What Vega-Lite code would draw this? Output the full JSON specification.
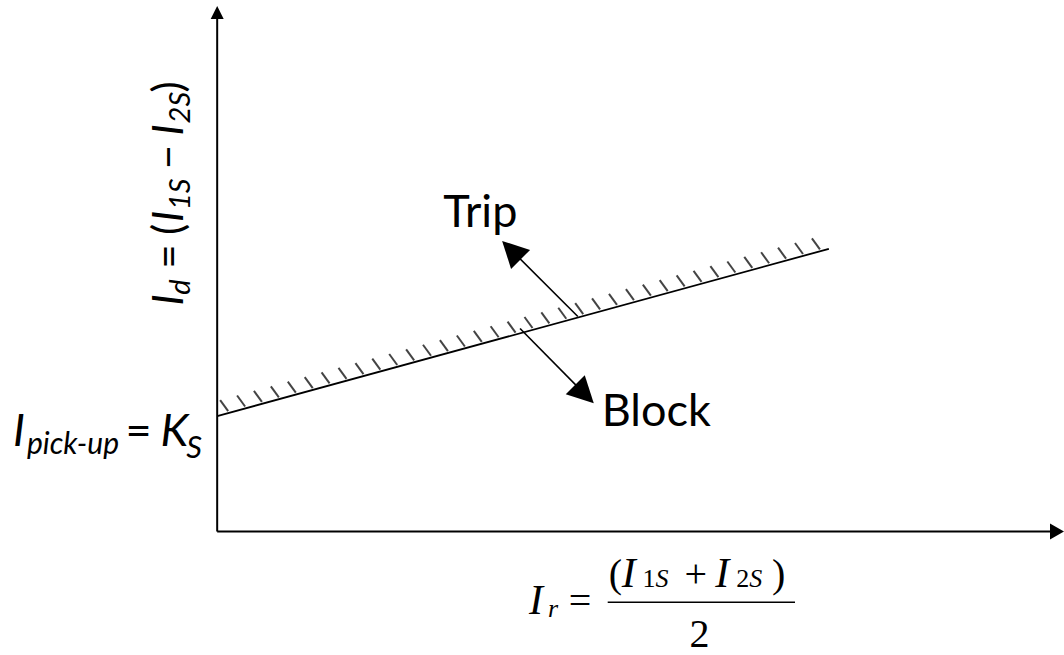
{
  "$schema": "https://vega.github.io/schema/vega-lite/v6.json",
  "width": 1064,
  "height": 655,
  "autosize": {"type": "fit", "contains": "padding"},
  "padding": 0,
  "background": "white",
  "config": {"view": {"stroke": null}},
  "datasets": {
    "axes": [{"x": 0, "y": 0, "x2": 0, "y2": 516}, {"x": 0, "y": 0, "x2": 838, "y2": 0}],
    "boundary": [{"x": 0, "y": 116, "x2": 614, "y2": 284}],
    "shafts": [{"x": 362, "y": 216, "x2": 294, "y2": 284}, {"x": 304, "y": 204, "x2": 370, "y2": 137}],
    "bar": [{"x": 392, "y": -71, "x2": 580, "y2": -71}],
    "hatch": [
      {"x": 7.0, "y": 117.9}, {"x": 24.0, "y": 122.6}, {"x": 40.9, "y": 127.2}, {"x": 57.9, "y": 131.8},
      {"x": 74.9, "y": 136.5}, {"x": 91.9, "y": 141.1}, {"x": 108.8, "y": 145.8}, {"x": 125.8, "y": 150.4},
      {"x": 142.8, "y": 155.1}, {"x": 159.7, "y": 159.7}, {"x": 176.7, "y": 164.3}, {"x": 193.7, "y": 169.0},
      {"x": 210.6, "y": 173.6}, {"x": 227.6, "y": 178.3}, {"x": 244.6, "y": 182.9}, {"x": 261.6, "y": 187.6},
      {"x": 278.5, "y": 192.2}, {"x": 295.5, "y": 196.8}, {"x": 312.5, "y": 201.5}, {"x": 329.4, "y": 206.1},
      {"x": 346.4, "y": 210.8}, {"x": 363.4, "y": 215.4}, {"x": 380.3, "y": 220.1}, {"x": 397.3, "y": 224.7},
      {"x": 414.3, "y": 229.4}, {"x": 431.3, "y": 234.0}, {"x": 448.2, "y": 238.6}, {"x": 465.2, "y": 243.3},
      {"x": 482.2, "y": 247.9}, {"x": 499.1, "y": 252.6}, {"x": 516.1, "y": 257.2}, {"x": 533.1, "y": 261.9},
      {"x": 550.0, "y": 266.5}, {"x": 567.0, "y": 271.1}, {"x": 584.0, "y": 275.8}, {"x": 601.0, "y": 280.4}
    ],
    "tipUp": [{"x": 0, "y": 528}],
    "tipRight": [{"x": 850, "y": 0}],
    "tipTrip": [{"x": 286, "y": 292}],
    "tipBlock": [{"x": 378, "y": 129}],
    "sansBig": [{"x": 227, "y": 306, "t": "Trip"}, {"x": 386, "y": 106, "t": "Block"}, {"x": -92, "y": 86, "t": "="}],
    "sansBigItalic": [{"x": -205, "y": 86, "t": "I"}, {"x": -57, "y": 86, "t": "K"}],
    "sansPickup": [{"x": -191, "y": 78, "t": "pick-up"}],
    "sansSmallItalic": [{"x": -31, "y": 74, "t": "S"}],
    "rotBigItalic": [{"x": -34, "y": 227, "t": "I"}, {"x": -34, "y": 311, "t": "I"}, {"x": -34, "y": 398, "t": "I"}],
    "rotBig": [{"x": -34, "y": 264, "t": "="}, {"x": -34, "y": 298, "t": "("}, {"x": -34, "y": 364, "t": "−"}, {"x": -34, "y": 441, "t": ")"}],
    "rotSmallItalic": [{"x": -27, "y": 238, "t": "d"}, {"x": -27, "y": 323, "t": "1S"}, {"x": -27, "y": 410, "t": "2S"}],
    "serifBigItalic": [{"x": 313, "y": -83, "t": "I"}, {"x": 406, "y": -56, "t": "I"}, {"x": 500, "y": -56, "t": "I"}],
    "serifBig": [{"x": 353, "y": -83, "t": "="}, {"x": 393, "y": -56, "t": "("}, {"x": 469, "y": -56, "t": "+"}, {"x": 557, "y": -56, "t": ")"}, {"x": 474, "y": -116, "t": "2"}],
    "serifSmallItalic": [{"x": 332, "y": -86, "t": "r"}, {"x": 440, "y": -56, "t": "S"}, {"x": 534, "y": -56, "t": "S"}],
    "serifSmall": [{"x": 427, "y": -56, "t": "1"}, {"x": 521, "y": -56, "t": "2"}]
  },
  "encoding": {
    "x": {"field": "x", "type": "quantitative", "scale": {"domain": [-218, 846], "nice": false, "zero": false}, "axis": null},
    "y": {"field": "y", "type": "quantitative", "scale": {"domain": [-121, 534], "nice": false, "zero": false}, "axis": null}
  },
  "layer": [
    {"data": {"name": "hatch"}, "mark": {"type": "point", "shape": "M-4,-14L4,-3", "size": 4, "filled": false, "stroke": "#444444", "strokeWidth": 2, "opacity": 1}},
    {"data": {"name": "axes"}, "mark": {"type": "rule", "color": "black", "strokeWidth": 2}, "encoding": {"x2": {"field": "x2"}, "y2": {"field": "y2"}}},
    {"data": {"name": "boundary"}, "mark": {"type": "rule", "color": "black", "strokeWidth": 1.8}, "encoding": {"x2": {"field": "x2"}, "y2": {"field": "y2"}}},
    {"data": {"name": "shafts"}, "mark": {"type": "rule", "color": "black", "strokeWidth": 1.6}, "encoding": {"x2": {"field": "x2"}, "y2": {"field": "y2"}}},
    {"data": {"name": "bar"}, "mark": {"type": "rule", "color": "black", "strokeWidth": 1.3}, "encoding": {"x2": {"field": "x2"}, "y2": {"field": "y2"}}},
    {"data": {"name": "tipUp"}, "mark": {"type": "point", "shape": "M0,0L-6.5,13L6.5,13Z", "size": 4, "filled": true, "color": "black", "opacity": 1, "strokeWidth": 0}},
    {"data": {"name": "tipRight"}, "mark": {"type": "point", "shape": "M0,0L-14,-8L-14,8Z", "size": 4, "filled": true, "color": "black", "opacity": 1, "strokeWidth": 0}},
    {"data": {"name": "tipTrip"}, "mark": {"type": "point", "shape": "M0,0L28,9L9,28Z", "size": 4, "filled": true, "color": "black", "opacity": 1, "strokeWidth": 0}},
    {"data": {"name": "tipBlock"}, "mark": {"type": "point", "shape": "M0,0L-28,-9L-9,-28Z", "size": 4, "filled": true, "color": "black", "opacity": 1, "strokeWidth": 0}},
    {"data": {"name": "sansBig"}, "mark": {"type": "text", "font": "Lato", "fontSize": 45, "align": "left", "baseline": "alphabetic", "color": "black"}, "encoding": {"text": {"field": "t"}}},
    {"data": {"name": "sansBigItalic"}, "mark": {"type": "text", "font": "Lato", "fontSize": 45, "fontStyle": "italic", "align": "left", "baseline": "alphabetic", "color": "black"}, "encoding": {"text": {"field": "t"}}},
    {"data": {"name": "sansPickup"}, "mark": {"type": "text", "font": "Lato", "fontSize": 30, "fontStyle": "italic", "align": "left", "baseline": "alphabetic", "color": "black"}, "encoding": {"text": {"field": "t"}}},
    {"data": {"name": "sansSmallItalic"}, "mark": {"type": "text", "font": "Lato", "fontSize": 31, "fontStyle": "italic", "align": "left", "baseline": "alphabetic", "color": "black"}, "encoding": {"text": {"field": "t"}}},
    {"data": {"name": "rotBigItalic"}, "mark": {"type": "text", "font": "Lato", "fontSize": 42, "fontStyle": "italic", "angle": 270, "align": "left", "baseline": "alphabetic", "color": "black"}, "encoding": {"text": {"field": "t"}}},
    {"data": {"name": "rotBig"}, "mark": {"type": "text", "font": "Lato", "fontSize": 42, "angle": 270, "align": "left", "baseline": "alphabetic", "color": "black"}, "encoding": {"text": {"field": "t"}}},
    {"data": {"name": "rotSmallItalic"}, "mark": {"type": "text", "font": "Lato", "fontSize": 29, "fontStyle": "italic", "angle": 270, "align": "left", "baseline": "alphabetic", "color": "black"}, "encoding": {"text": {"field": "t"}}},
    {"data": {"name": "serifBigItalic"}, "mark": {"type": "text", "font": "Liberation Serif", "fontSize": 42, "fontStyle": "italic", "align": "left", "baseline": "alphabetic", "color": "black"}, "encoding": {"text": {"field": "t"}}},
    {"data": {"name": "serifBig"}, "mark": {"type": "text", "font": "Liberation Serif", "fontSize": 40, "align": "left", "baseline": "alphabetic", "color": "black"}, "encoding": {"text": {"field": "t"}}},
    {"data": {"name": "serifSmallItalic"}, "mark": {"type": "text", "font": "Liberation Serif", "fontSize": 26, "fontStyle": "italic", "align": "left", "baseline": "alphabetic", "color": "black"}, "encoding": {"text": {"field": "t"}}},
    {"data": {"name": "serifSmall"}, "mark": {"type": "text", "font": "Liberation Serif", "fontSize": 26, "align": "left", "baseline": "alphabetic", "color": "black"}, "encoding": {"text": {"field": "t"}}}
  ]
}
